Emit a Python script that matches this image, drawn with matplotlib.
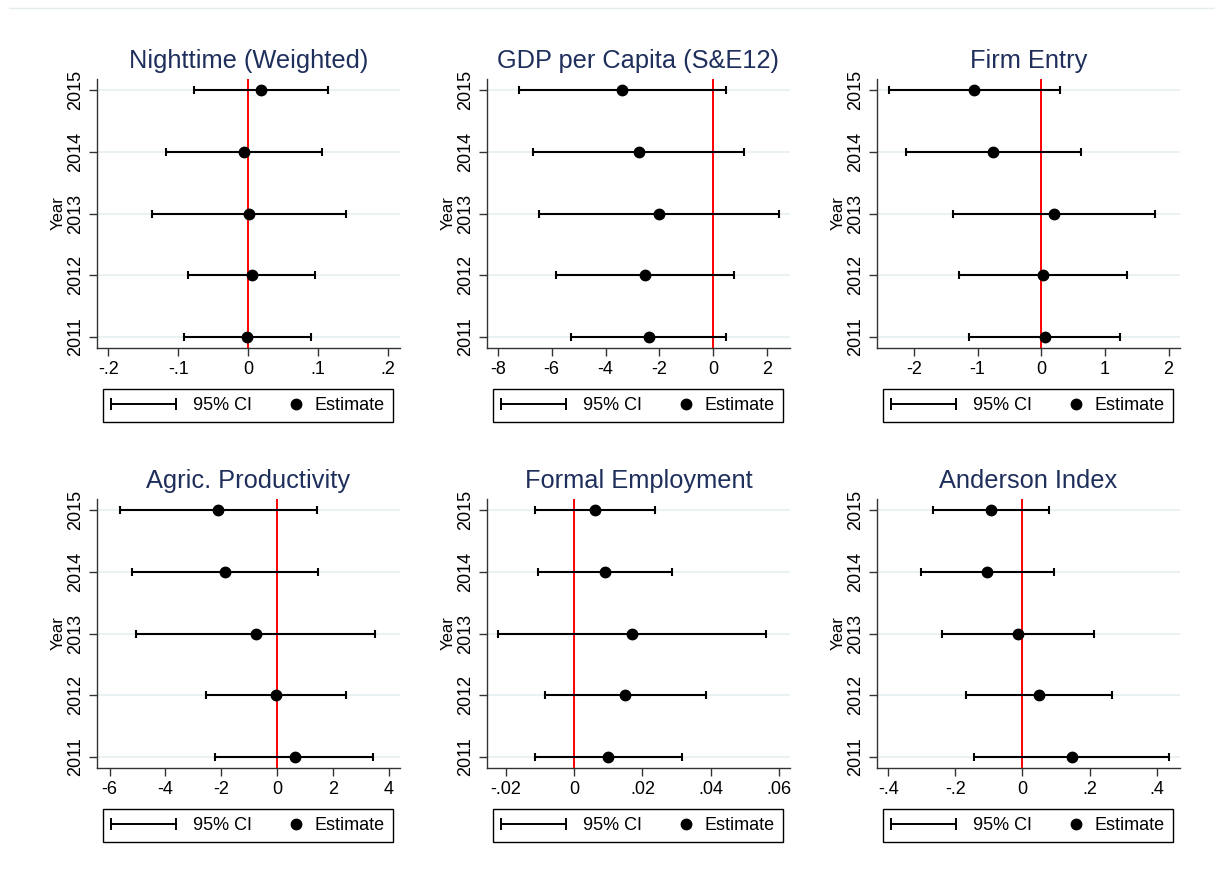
import matplotlib.pyplot as plt
from matplotlib.lines import Line2D
from matplotlib.legend_handler import HandlerLine2D

plt.rcParams['font.family'] = ['Liberation Sans', 'DejaVu Sans']

years = [2011, 2012, 2013, 2014, 2015]

titles = ['Nighttime (Weighted)', 'GDP per Capita (S&E12)', 'Firm Entry',
          'Agric. Productivity', 'Formal Employment', 'Anderson Index']

# point estimates and 95% CI bounds, ordered 2011..2015
night_est = [-0.001, 0.0057, 0.0015, -0.006, 0.018]
night_lo = [-0.0914, -0.0857, -0.138, -0.118, -0.0776]
night_hi = [0.0895, 0.0957, 0.140, 0.106, 0.1148]

gdp_est = [-2.39, -2.53, -2.01, -2.76, -3.37]
gdp_lo = [-5.27, -5.85, -6.48, -6.68, -7.21]
gdp_hi = [0.47, 0.77, 2.43, 1.16, 0.48]

firm_est = [0.06, 0.03, 0.20, -0.76, -1.05]
firm_lo = [-1.14, -1.29, -1.39, -2.13, -2.39]
firm_hi = [1.24, 1.35, 1.79, 0.62, 0.30]

agri_est = [0.63, -0.05, -0.76, -1.87, -2.11]
agri_lo = [-2.21, -2.55, -5.04, -5.21, -5.64]
agri_hi = [3.45, 2.46, 3.49, 1.46, 1.43]

emp_est = [0.010, 0.015, 0.017, 0.009, 0.006]
emp_lo = [-0.0115, -0.0085, -0.0223, -0.0106, -0.0115]
emp_hi = [0.0316, 0.0386, 0.0562, 0.0287, 0.0237]

and_est = [0.147, 0.049, -0.014, -0.105, -0.094]
and_lo = [-0.145, -0.167, -0.240, -0.304, -0.266]
and_hi = [0.438, 0.267, 0.213, 0.093, 0.079]

panels = [
    (night_est, night_lo, night_hi),
    (gdp_est, gdp_lo, gdp_hi),
    (firm_est, firm_lo, firm_hi),
    (agri_est, agri_lo, agri_hi),
    (emp_est, emp_lo, emp_hi),
    (and_est, and_lo, and_hi),
]

xticks = [
    [-0.2, -0.1, 0, 0.1, 0.2],
    [-8, -6, -4, -2, 0, 2],
    [-2, -1, 0, 1, 2],
    [-6, -4, -2, 0, 2, 4],
    [-0.02, 0, 0.02, 0.04, 0.06],
    [-0.4, -0.2, 0, 0.2, 0.4],
]
xticklabels = [
    ['-.2', '-.1', '0', '.1', '.2'],
    ['-8', '-6', '-4', '-2', '0', '2'],
    ['-2', '-1', '0', '1', '2'],
    ['-6', '-4', '-2', '0', '2', '4'],
    ['-.02', '0', '.02', '.04', '.06'],
    ['-.4', '-.2', '0', '.2', '.4'],
]
xlims = [(-0.216, 0.217), (-8.40, 2.85), (-2.58, 2.18),
         (-6.45, 4.40), (-0.0255, 0.0632), (-0.434, 0.470)]

W, H = 1215, 882
fig = plt.figure(figsize=(W / 100, H / 100), dpi=100)

# faint graph-region border at the top
fig.add_artist(Line2D([9 / W, 1], [1 - 8 / H, 1 - 8 / H], color='#e6edef', lw=1))

col_left = [97, 487, 877]
row_top = [79, 499]
aw, ah = 303, 269

title_color = '#1f2f5c'

for i, (est, lo, hi) in enumerate(panels):
    r, c = divmod(i, 3)
    ax = fig.add_axes([col_left[c] / W, 1 - (row_top[r] + ah) / H, aw / W, ah / H])

    xerr = [[e - l for e, l in zip(est, lo)], [h - e for e, h in zip(est, hi)]]
    ax.axvline(0, color='#ff0000', lw=1.4, zorder=2)
    ax.errorbar(est, years, xerr=xerr, fmt='none', ecolor='black',
                elinewidth=1.5, capsize=3, capthick=1.5, zorder=3)
    ax.plot(est, years, 'o', color='black', ms=7.5, zorder=4)

    ax.set_xlim(*xlims[i])
    ax.set_xticks(xticks[i])
    ax.set_xticklabels(xticklabels[i])
    ax.set_ylim(2010.82, 2015.18)
    ax.set_yticks(years)
    ax.set_yticklabels([str(y) for y in years], rotation=90, va='center')

    ax.grid(axis='y', color='#e8f0f2', lw=1.3)
    ax.set_axisbelow(True)
    for s in ['top', 'right']:
        ax.spines[s].set_visible(False)
    for s in ['left', 'bottom']:
        ax.spines[s].set_color('#333333')
        ax.spines[s].set_linewidth(1.0)
    ax.tick_params(length=6, width=1.0, color='#333333', labelsize=13, pad=3)

    ax.set_ylabel('Year', fontsize=12, labelpad=1)
    ax.set_title(titles[i], fontsize=18.3, color=title_color, pad=8)

    ci_handle = Line2D([], [], color='black', lw=1.4, marker='|', ms=8, mew=1.4)
    est_handle = Line2D([], [], color='black', marker='o', ls='none', ms=7.5)
    leg = ax.legend([ci_handle, est_handle], ['95% CI', 'Estimate'],
                    handler_map={ci_handle: HandlerLine2D(numpoints=2, marker_pad=0),
                                 est_handle: HandlerLine2D(numpoints=1, xpad=3.4)},
                    ncol=2, mode='expand', loc='upper left',
                    bbox_to_anchor=(0.02, -0.152 - 0.13, 0.957, 0.13),
                    borderaxespad=0, fancybox=False, edgecolor='black',
                    framealpha=1, fontsize=13, handlelength=3.6,
                    handletextpad=0.95, borderpad=0.45)
    leg.get_frame().set_linewidth(1.0)

fig.savefig('out.png', dpi=100, facecolor='white')
